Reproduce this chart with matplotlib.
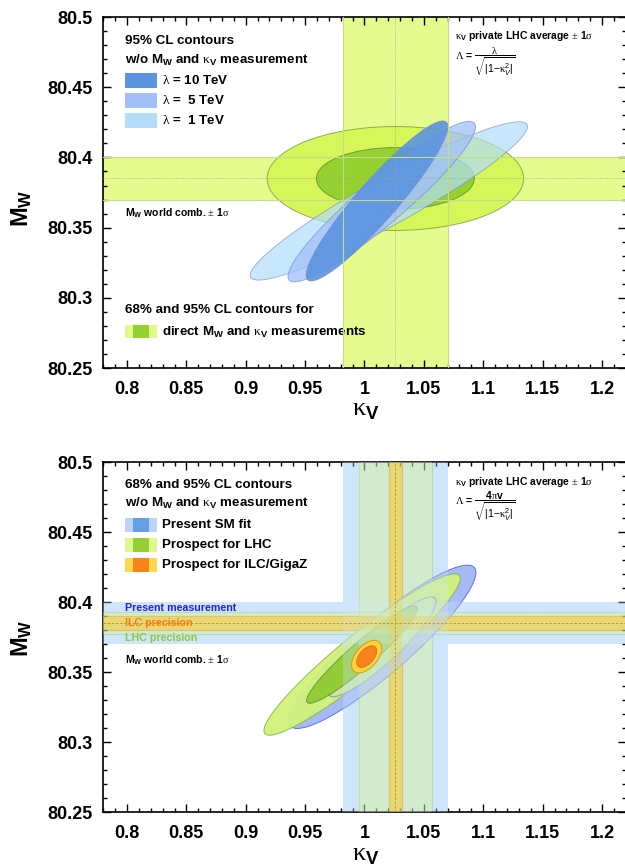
import matplotlib
matplotlib.use("Agg")
import matplotlib.pyplot as plt
from matplotlib.patches import Ellipse, Rectangle
from matplotlib.ticker import MultipleLocator, FuncFormatter

plt.rcParams['font.family'] = ['Liberation Sans', 'DejaVu Sans']
plt.rcParams['mathtext.fontset'] = 'custom'
plt.rcParams['mathtext.rm'] = 'Liberation Sans'
plt.rcParams['mathtext.bf'] = 'Liberation Sans:bold'
plt.rcParams['mathtext.it'] = 'Liberation Sans:italic'
plt.rcParams['mathtext.sf'] = 'Liberation Serif'

# bands: world average M_W and private LHC kappa_V average (+- 1 sigma)
kv_center = 1.026
mw_center = 80.385
kv_sigma = 0.044
mw_sigma = 0.015

# top panel: direct measurement contours (68%, 95%)
direct_width = [0.216, 0.133]
direct_height = [0.074, 0.044]

# top panel: 95% CL contours for different lambda
lam_labels = ['10', ' 5', ' 1']
lam_x = [1.0105, 1.0145, 1.0205]
lam_y = [80.369, 80.3685, 80.369]
lam_len = [0.162, 0.192, 0.257]
lam_minor = [0.031, 0.034, 0.035]
lam_angle = [43.6, 35.3, 24.9]

# bottom panel: band half widths (present, LHC, ILC)
kv_prec = [0.044, 0.0305, 0.0055]
mw_prec = [0.015, 0.008, 0.005]

# bottom panel: 95% and 68% contours
sm_xy = (1.015, 80.368)
sm_len = [0.192, 0.113]
sm_minor = [0.040, 0.024]
sm_angle = [35.7, 37.5]

lhc_xy = (0.998, 80.3625)
lhc_len = [0.199, 0.115]
lhc_minor = [0.032, 0.019]
lhc_angle = [34.3, 36.2]

ilc_xy = (1.0018, 80.361)
ilc_len = [0.030, 0.020]
ilc_minor = [0.017, 0.011]
ilc_angle = [40, 40]

fig = plt.figure(figsize=(6.25, 8.68), dpi=100)
ax1 = fig.add_axes([0.1652, 0.576, 0.836, 0.4044])
ax2 = fig.add_axes([0.1652, 0.0645, 0.836, 0.4032])

KV = r'$\mathsf{\kappa}_{\mathbf{V}}$'
PM = r'$\mathsf{\pm}$ 1$\mathsf{\sigma}$'


def style_axes(ax):
    ax.set_xlim(0.78, 1.22)
    ax.set_ylim(80.25, 80.5)
    ax.xaxis.set_major_locator(MultipleLocator(0.05))
    ax.xaxis.set_minor_locator(MultipleLocator(0.01))
    ax.yaxis.set_major_locator(MultipleLocator(0.05))
    ax.yaxis.set_minor_locator(MultipleLocator(0.01))
    fmt = FuncFormatter(lambda v, p: '%g' % round(v, 3))
    ax.xaxis.set_major_formatter(fmt)
    ax.yaxis.set_major_formatter(fmt)
    ax.tick_params(which='both', direction='in', top=True, right=True, width=1)
    ax.tick_params(which='major', length=6)
    ax.tick_params(which='minor', length=3)
    ax.tick_params(axis='x', pad=9)
    ax.tick_params(axis='y', pad=8)
    for lab in ax.get_xticklabels() + ax.get_yticklabels():
        lab.set_fontsize(13)
        lab.set_fontweight('bold')
    for s in ax.spines.values():
        s.set_linewidth(1.2)


# ---------------- top panel ----------------
ax = ax1
ax.axvspan(kv_center - kv_sigma, kv_center + kv_sigma, color='#e6fb8e', lw=0, zorder=1)
ax.axhspan(mw_center - mw_sigma, mw_center + mw_sigma, color='#e6fb8e', lw=0, zorder=1)

ax.add_patch(Ellipse((kv_center, mw_center), direct_width[0], direct_height[0],
                     fc='#d6f65a', ec='#8cae50', lw=0.7, zorder=2))
ax.add_patch(Ellipse((kv_center, mw_center), direct_width[1], direct_height[1],
                     fc='#94d02e', ec='#6e9e36', lw=0.7, zorder=3))

for v in [kv_center - kv_sigma, kv_center + kv_sigma]:
    ax.axvline(v, color='#c4dc88', lw=0.8, zorder=6)
for v in [mw_center - mw_sigma, mw_center + mw_sigma]:
    ax.axhline(v, color='#c4dc88', lw=0.8, zorder=6)
ax.axvline(kv_center, color='#a0a0a0', lw=0.6, ls=':', zorder=6)
ax.axhline(mw_center, color='#a0a0a0', lw=0.6, ls=':', zorder=6)

lam_colors = ['#5a93e0', '#a2bff9', '#b3ddfa']
lam_alpha = [0.9, 0.75, 0.7]
for i in [2, 1, 0]:
    ax.add_patch(Ellipse((lam_x[i], lam_y[i]), lam_len[i], lam_minor[i], angle=lam_angle[i],
                         fc=lam_colors[i], alpha=lam_alpha[i], ec='#7088d8', lw=0.6, zorder=4))

style_axes(ax)
tb = dict(transform=ax.transAxes, fontweight='bold', va='center', ha='left')
ax.text(0.0416, 0.932, '95% CL contours', fontsize=9.6, **tb)
ax.text(0.0416, 0.877, r'w/o M$_{\bf W}$ and ' + KV + ' measurement', fontsize=9.6, **tb)
lam_ys = [0.819, 0.762, 0.705]
for i in range(3):
    ax.add_patch(Rectangle((0.0416, lam_ys[i] - 0.021), 0.0613, 0.042, transform=ax.transAxes,
                           fc=lam_colors[i], ec='none', zorder=7))
    ax.text(0.1124, lam_ys[i], r'$\mathsf{\lambda}$ = ' + lam_labels[i] + ' TeV', fontsize=9.6, **tb)
ax.text(0.0416, 0.442, r'M$_{\bf W}$ world comb. ' + PM, fontsize=7.5, **tb)
ax.text(0.0416, 0.165, '68% and 95% CL contours for', fontsize=9.6, **tb)
ax.add_patch(Rectangle((0.0416, 0.0855), 0.0613, 0.037, transform=ax.transAxes,
                       fc='#e2fa8a', ec='none', zorder=7))
ax.add_patch(Rectangle((0.057, 0.0855), 0.03, 0.037, transform=ax.transAxes,
                       fc='#94d02e', ec='none', zorder=7))
ax.text(0.1124, 0.1, r'direct M$_{\bf W}$ and ' + KV + ' measurements', fontsize=9.6, **tb)
ax.text(0.673, 0.947, KV + ' private LHC average ' + PM, fontsize=7.5, **tb)
ax.text(0.673, 0.872,
        r'$\mathsf{\Lambda}$ = $\dfrac{\mathsf{\lambda}}{\sqrt{|1\mathrm{-}\mathsf{\kappa}_V^2|}}$',
        fontsize=7.5, **tb)

# ---------------- bottom panel ----------------
ax = ax2
band_colors = ['#cfe5fb', '#d4eec2', '#f4d03c']
edge_colors = ['none', '#a6da8c', '#f08a22']
for i in range(3):
    ax.axvspan(kv_center - kv_prec[i], kv_center + kv_prec[i], fc=band_colors[i], ec='none', zorder=1)
    ax.axhspan(mw_center - mw_prec[i], mw_center + mw_prec[i], fc=band_colors[i], ec='none', zorder=1)
    if edge_colors[i] != 'none':
        for s in [-1, 1]:
            ax.axvline(kv_center + s * kv_prec[i], color=edge_colors[i], lw=0.9, zorder=1.5)
            ax.axhline(mw_center + s * mw_prec[i], color=edge_colors[i], lw=0.9, zorder=1.5)

ax.add_patch(Ellipse(sm_xy, sm_len[0], sm_minor[0], angle=sm_angle[0],
                     fc='#a6bbf4', ec='#5d72e0', lw=0.7, zorder=2))
ax.add_patch(Ellipse(lhc_xy, lhc_len[0], lhc_minor[0], angle=lhc_angle[0],
                     fc='#d2f27c', ec='#8cb64c', lw=0.7, alpha=0.95, zorder=2.1))
ax.add_patch(Ellipse(sm_xy, sm_len[1], sm_minor[1], angle=sm_angle[1],
                     fc='#c6e6a2', ec='#8f9fc4', lw=0.8, zorder=2.2))
ax.add_patch(Ellipse(lhc_xy, lhc_len[1], lhc_minor[1], angle=lhc_angle[1],
                     fc='#92cc36', ec='#6a9a34', lw=0.7, zorder=2.3))

# translucent bands over the contours
for i in range(3):
    ax.axvspan(kv_center - kv_prec[i], kv_center + kv_prec[i], fc=band_colors[i], ec='none',
               alpha=0.3, zorder=3)
    ax.axhspan(mw_center - mw_prec[i], mw_center + mw_prec[i], fc=band_colors[i], ec='none',
               alpha=0.3, zorder=3)
ax.axvline(kv_center, color='#c8852a', lw=0.6, ls=(0, (3, 2)), zorder=4)
ax.axhline(mw_center, color='#c8852a', lw=0.6, ls=(0, (3, 2)), zorder=4)

ax.add_patch(Ellipse(ilc_xy, ilc_len[0], ilc_minor[0], angle=ilc_angle[0],
                     fc='#f5d43c', ec='#d89a2a', lw=0.7, zorder=5))
ax.add_patch(Ellipse(ilc_xy, ilc_len[1], ilc_minor[1], angle=ilc_angle[1],
                     fc='#f8821f', ec='#e06a10', lw=0.6, zorder=5.1))

style_axes(ax)
tb = dict(transform=ax.transAxes, fontweight='bold', va='center', ha='left')
ax.text(0.0416, 0.934, '68% and 95% CL contours', fontsize=9.6, **tb)
ax.text(0.0416, 0.882, r'w/o M$_{\bf W}$ and ' + KV + ' measurement', fontsize=9.6, **tb)
leg_labels = ['Present SM fit', 'Prospect for LHC', 'Prospect for ILC/GigaZ']
leg_outer = ['#bcd2f9', '#ddf98c', '#fcd84c']
leg_inner = ['#64a0e6', '#94d034', '#f8841c']
leg_ys = [0.82, 0.763, 0.706]
for i in range(3):
    ax.add_patch(Rectangle((0.0416, leg_ys[i] - 0.021), 0.0613, 0.042, transform=ax.transAxes,
                           fc=leg_outer[i], ec='none', zorder=7))
    ax.add_patch(Rectangle((0.057, leg_ys[i] - 0.021), 0.03, 0.042, transform=ax.transAxes,
                           fc=leg_inner[i], ec='none', zorder=7))
    ax.text(0.1124, leg_ys[i], leg_labels[i], fontsize=9.6, **tb)
ax.text(0.0416, 0.583, 'Present measurement', fontsize=7.7, color='#2323d2', **tb)
ax.text(0.0416, 0.540, 'ILC precision', fontsize=7.7, color='#f67a12', **tb)
ax.text(0.0416, 0.497, 'LHC precision', fontsize=7.7, color='#8cc63e', **tb)
ax.text(0.0416, 0.434, r'M$_{\bf W}$ world comb. ' + PM, fontsize=7.5, **tb)
ax.text(0.673, 0.943, KV + ' private LHC average ' + PM, fontsize=7.5, **tb)
ax.text(0.673, 0.875,
        r'$\mathsf{\Lambda}$ = $\dfrac{\mathbf{4}\mathsf{\pi}\mathbf{v}}{\sqrt{|1\mathrm{-}\mathsf{\kappa}_V^2|}}$',
        fontsize=7.5, **tb)

# axis titles
for yl, xl in [(208, 410), (638, 855)]:
    fig.text(22 / 625, 1 - yl / 868, r'$\mathbf{M_W}$', rotation=90, fontsize=17,
             ha='center', va='center')
    fig.text(366 / 625, 1 - xl / 868, r'$\mathsf{\kappa}_{\mathbf{V}}$', fontsize=19,
             ha='center', va='center')

fig.savefig('out.png', dpi=100)
